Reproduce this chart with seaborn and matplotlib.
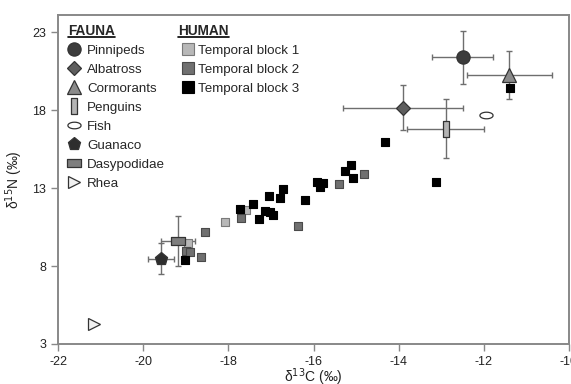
import numpy as np
import pandas as pd
import seaborn as sns
import matplotlib.pyplot as plt
from matplotlib.lines import Line2D
from matplotlib.path import Path
from matplotlib.transforms import IdentityTransform

sns.set_style('ticks')
plt.rcParams['font.family'] = ['Liberation Sans', 'DejaVu Sans']
plt.rcParams['axes.unicode_minus'] = False

# human bone collagen (d13C, d15N) by temporal block
tb1_c = [-18.95, -18.07, -17.58]
tb1_n = [9.5, 10.8, 11.6]
tb2_c = [-19.0, -18.9, -18.64, -18.54, -17.7, -16.36, -15.4, -14.82]
tb2_n = [8.96, 8.9, 8.6, 10.2, 11.1, 10.58, 13.26, 13.88]
tb3_c = [-19.01, -17.73, -17.43, -17.29, -17.13, -17.03, -16.95, -17.04, -16.78, -16.71,
         -16.21, -15.91, -15.77, -15.84, -15.25, -15.11, -15.07, -14.32, -13.13, -11.39]
tb3_n = [8.38, 11.65, 11.97, 11.0, 11.55, 11.45, 11.27, 12.5, 12.38, 12.94,
         12.21, 13.4, 13.34, 13.04, 14.11, 14.47, 13.66, 15.93, 13.4, 19.45]

# fauna means and sd
fauna = ['Pinnipeds', 'Albatross', 'Cormorants', 'Penguins', 'Fish', 'Guanaco', 'Dasypodidae', 'Rhea']
fauna_c = [-12.5, -13.9, -11.4, -12.9, -11.95, -19.58, -19.18, -21.15]
fauna_n = [21.4, 18.15, 20.25, 16.8, 17.66, 8.46, 9.58, 4.26]
fauna_c_sd = [0.72, 1.4, 1.0, 0.91, np.nan, 0.3, 0.4, np.nan]
fauna_n_sd = [1.7, 1.45, 1.55, 1.9, np.nan, 1.0, 1.6, np.nan]

human = pd.DataFrame({
    'c': tb1_c + tb2_c + tb3_c,
    'n': tb1_n + tb2_n + tb3_n,
    'block': ['Temporal block 1'] * len(tb1_c) + ['Temporal block 2'] * len(tb2_c)
             + ['Temporal block 3'] * len(tb3_c),
})

# marker shapes
tall_rect = Path([(-0.45, -1), (0.45, -1), (0.45, 1), (-0.45, 1), (-0.45, -1)],
                 [1, 2, 2, 2, 79])
wide_rect = Path([(-1, -0.5), (1, -0.5), (1, 0.5), (-1, 0.5), (-1, -0.5)],
                 [1, 2, 2, 2, 79])
t = np.linspace(0, 2 * np.pi, 40)
ellipse = Path(np.column_stack([np.cos(t), 0.5 * np.sin(t)]))

fauna_style = {
    'Pinnipeds':   dict(marker='o', ms=9.5, mfc='#3c3c3c'),
    'Albatross':   dict(marker='D', ms=7.6, mfc='#5e5e5e'),
    'Cormorants':  dict(marker='^', ms=9.5, mfc='#8a8a8a'),
    'Penguins':    dict(marker=tall_rect, ms=11, mfc='#b4b4b4'),
    'Fish':        dict(marker=ellipse, ms=9.5, mfc='white'),
    'Guanaco':     dict(marker='p', ms=9.5, mfc='#2e2e2e'),
    'Dasypodidae': dict(marker=wide_rect, ms=10.5, mfc='#7e7e7e'),
    'Rhea':        dict(marker='>', ms=9, mfc='#f0f0f0'),
}
block_colors = {'Temporal block 1': '#b8b8b8', 'Temporal block 2': '#707070', 'Temporal block 3': '#000000'}
block_edges = {'Temporal block 1': '#7a7a7a', 'Temporal block 2': '#4a4a4a', 'Temporal block 3': '#000000'}

fig = plt.figure(figsize=(5.71, 3.84), dpi=100)
ax = fig.add_axes([58 / 571, 40 / 384, 511 / 571, 329 / 384])

# fauna with error bars
for i, name in enumerate(fauna):
    st = fauna_style[name]
    ax.errorbar(fauna_c[i], fauna_n[i], xerr=fauna_c_sd[i], yerr=fauna_n_sd[i],
                fmt='none', ecolor='#6e6e6e', elinewidth=1, capsize=2.2, capthick=1, zorder=2)
    ax.plot(fauna_c[i], fauna_n[i], linestyle='none', marker=st['marker'], ms=st['ms'],
            mfc=st['mfc'], mec='#333333', mew=0.9, zorder=4)

# human points
for blk in ['Temporal block 1', 'Temporal block 2', 'Temporal block 3']:
    sub = human[human['block'] == blk]
    sns.scatterplot(data=sub, x='c', y='n', marker='s', s=34, color=block_colors[blk],
                    edgecolor=block_edges[blk], linewidth=0.8, ax=ax, zorder=3, legend=False)

ax.set_xlim(-22, -10)
ax.set_ylim(3, 24.1)
ax.set_xticks(np.arange(-22, -9, 2))
ax.set_yticks([3, 8, 13, 18, 23])
for sp in ['left', 'bottom', 'top', 'right']:
    ax.spines[sp].set_color('#888888')
    ax.spines[sp].set_linewidth(1.4)
ax.tick_params(colors='#888888', labelcolor='#222222', labelsize=9, length=5, width=1)
ax.set_xlabel('δ$^{13}$C (‰)', fontsize=10, color='#222222')
ax.xaxis.set_label_coords(0.5, -0.068)
ax.set_ylabel('δ$^{15}$N (‰)', fontsize=10, color='#222222', labelpad=5)

# legends
fauna_handles = [Line2D([], [], linestyle='none', marker=fauna_style[n]['marker'],
                        ms=fauna_style[n]['ms'], mfc=fauna_style[n]['mfc'], mec='#333333', mew=0.9)
                 for n in fauna]
human_handles = [Line2D([], [], linestyle='none', marker='s', ms=8, mfc=block_colors[b],
                        mec=block_edges[b], mew=0.8) for b in block_colors]
leg_kw = dict(frameon=False, fontsize=9.6, borderpad=0, borderaxespad=0, labelspacing=0.5,
              loc='upper left', alignment='left',
              title_fontproperties={'weight': 'bold', 'size': 9.8})
leg1 = ax.legend(fauna_handles, fauna, title='FAUNA', bbox_to_anchor=(0.0196, 0.9726),
                 handlelength=0.9, handletextpad=0.53, **leg_kw)
ax.add_artist(leg1)
leg2 = ax.legend(human_handles, list(block_colors), title='HUMAN', bbox_to_anchor=(0.235, 0.9726),
                 handlelength=1.46, handletextpad=0.05, **leg_kw)

# underline legend titles
fig.canvas.draw()
renderer = fig.canvas.get_renderer()
for lg in [leg1, leg2]:
    bb = lg.get_title().get_window_extent(renderer)
    fig.lines.append(Line2D([bb.x0, bb.x1], [bb.y0 + 1.5, bb.y0 + 1.5], transform=IdentityTransform(),
                            color='black', lw=1.2, figure=fig))

fig.savefig('out.png', dpi=100)
